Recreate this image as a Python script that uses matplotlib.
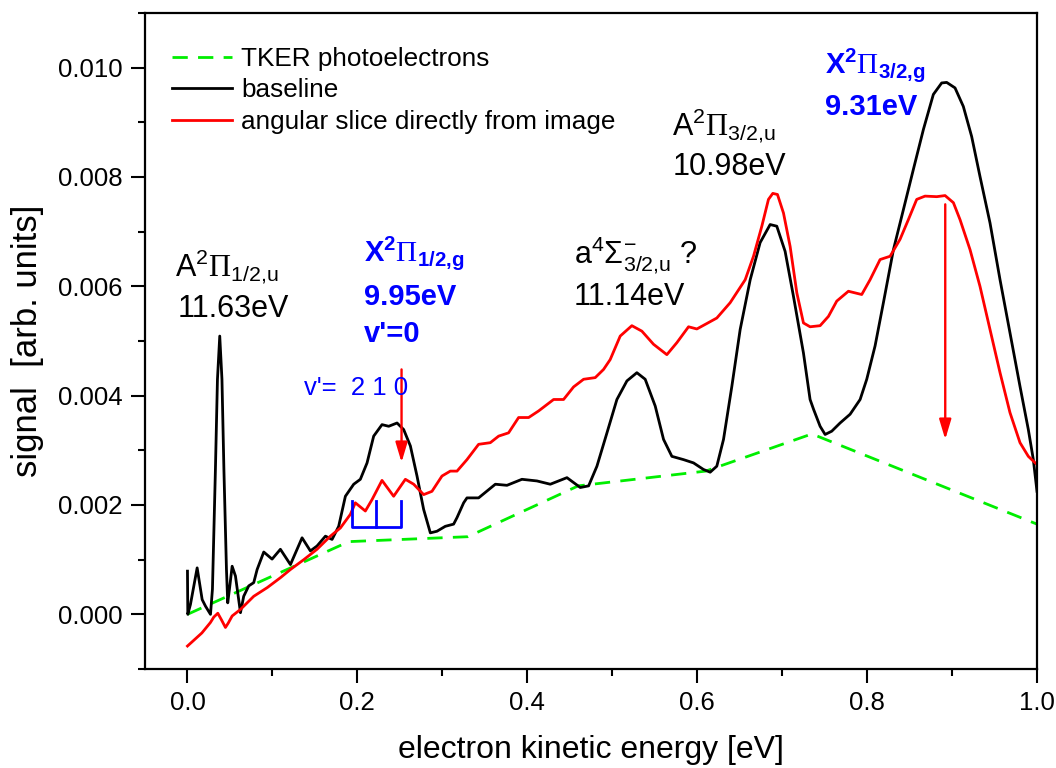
import matplotlib
matplotlib.use("Agg")
import matplotlib.pyplot as plt
from matplotlib.ticker import MultipleLocator

plt.rcParams['font.family'] = ['Liberation Sans', 'DejaVu Sans']
plt.rcParams['mathtext.fontset'] = 'custom'
plt.rcParams['mathtext.rm'] = 'Liberation Sans'
plt.rcParams['mathtext.it'] = 'Liberation Sans:italic'
plt.rcParams['mathtext.bf'] = 'Liberation Sans:bold'
plt.rcParams['mathtext.sf'] = 'Liberation Serif'

# TKER photoelectron background (piecewise linear)
tker_e = [0.0, 0.19, 0.33, 0.46, 0.61, 0.735, 1.0]
tker_s = [0.0, 0.00133, 0.00142, 0.00235, 0.00262, 0.0033, 0.00165]

# baseline spectrum
base_e = [0.0, 0.0004, 0.0035, 0.0114, 0.0173, 0.0212, 0.0271, 0.0294, 0.0329,
          0.0353, 0.038, 0.0406, 0.0429, 0.0459, 0.0474, 0.0494, 0.0526, 0.0565,
          0.0594, 0.0624, 0.0662, 0.0721, 0.078, 0.082, 0.0898, 0.0996, 0.1094,
          0.1212, 0.1349, 0.1447, 0.1525, 0.1624, 0.1702, 0.178, 0.1859,
          0.1957, 0.2035, 0.2114, 0.2192, 0.229, 0.2369, 0.2467, 0.2545,
          0.2624, 0.2702, 0.278, 0.2859, 0.2937, 0.3035, 0.3133, 0.3173, 0.3251,
          0.329, 0.3427, 0.3624, 0.3761, 0.3937, 0.4114, 0.4271, 0.4467, 0.4624,
          0.4722, 0.482, 0.4938, 0.5055, 0.5173, 0.529, 0.5388, 0.5506, 0.5604,
          0.5702, 0.5839, 0.5957, 0.6074, 0.6153, 0.6231, 0.631, 0.6408, 0.6506,
          0.6624, 0.6741, 0.6859, 0.6937, 0.7035, 0.7133, 0.7251, 0.7329, 0.737,
          0.7447, 0.7506, 0.7584, 0.7682, 0.78, 0.7918, 0.7996, 0.8094, 0.8192,
          0.831, 0.8427, 0.8545, 0.8663, 0.878, 0.8878, 0.8937, 0.9035, 0.9133,
          0.9231, 0.9329, 0.9447, 0.9565, 0.9682, 0.98, 0.9898, 0.9957, 1.0]
base_s = [0.00079, 0.0, 0.00018, 0.00085, 0.00027, 0.00015, 0.0, 0.00046, 0.00265,
          0.0043, 0.00509, 0.0043, 0.00265, 0.00082, 0.00021, 0.00046, 0.00088,
          0.0007, 0.00037, 0.00003, 0.00033, 0.00052, 0.00058, 0.00082, 0.00114,
          0.00101, 0.00119, 0.00091, 0.0014, 0.00116, 0.00125, 0.00143, 0.00137,
          0.00161, 0.00216, 0.00238, 0.00247, 0.00277, 0.00326, 0.00347,
          0.00344, 0.0035, 0.00338, 0.00308, 0.00253, 0.00192, 0.00149, 0.00152,
          0.00161, 0.00165, 0.00177, 0.00204, 0.00213, 0.00213, 0.00238,
          0.00236, 0.00247, 0.00244, 0.00238, 0.0025, 0.00232, 0.00235, 0.00271,
          0.00332, 0.00393, 0.00427, 0.00442, 0.0043, 0.00381, 0.0032, 0.00289,
          0.00283, 0.00277, 0.00265, 0.0026, 0.00271, 0.0032, 0.00417, 0.00521,
          0.00612, 0.0068, 0.00713, 0.0071, 0.00664, 0.00582, 0.00478, 0.00393,
          0.00375, 0.00344, 0.00329, 0.00335, 0.0035, 0.00366, 0.00393, 0.0043,
          0.00491, 0.0057, 0.00667, 0.0074, 0.00814, 0.00887, 0.00951, 0.00972,
          0.00973, 0.00963, 0.00929, 0.00874, 0.00801, 0.00716, 0.00612,
          0.00515, 0.00417, 0.00338, 0.00283, 0.00225]

# angular slice
slice_e = [0.0, 0.017, 0.027, 0.031, 0.0357, 0.04, 0.0447, 0.048, 0.0526, 0.0624,
           0.078, 0.094, 0.1094, 0.1212, 0.1369, 0.1525, 0.1682, 0.18, 0.1918,
           0.1976, 0.2094, 0.2173, 0.229, 0.2427, 0.2565, 0.2663, 0.278,
           0.2878, 0.2996, 0.3094, 0.3173, 0.329, 0.3427, 0.3565, 0.3663, 0.378,
           0.3898, 0.4016, 0.4133, 0.431, 0.4427, 0.4545, 0.4663, 0.48, 0.4898,
           0.4976, 0.5094, 0.5231, 0.5349, 0.5486, 0.5643, 0.5761, 0.5898,
           0.5996, 0.6114, 0.6231, 0.6388, 0.6565, 0.6663, 0.6761, 0.6839, 0.689,
           0.6945, 0.7016, 0.7094, 0.7173, 0.7251, 0.7329, 0.7447, 0.7545,
           0.7643, 0.778, 0.7937, 0.8035, 0.8153, 0.8271, 0.8388, 0.8486, 0.8584,
           0.8682, 0.882, 0.8918, 0.9016, 0.9094, 0.9212, 0.9329, 0.9447, 0.9565,
           0.9682, 0.98, 0.9898, 1.0]
slice_s = [-0.00058, -0.00034, -0.00015, -0.00005, 0.00002, -0.0001, -0.00024,
           -0.00016, -0.00003, 0.00009, 0.00033, 0.00049, 0.00067, 0.00082,
           0.001, 0.00119, 0.00143, 0.00158, 0.00183, 0.00204, 0.00189, 0.0021,
           0.00245, 0.00216, 0.00247, 0.00238, 0.00219, 0.00225, 0.00253,
           0.00262, 0.00262, 0.00283, 0.00311, 0.00314, 0.00326, 0.00332,
           0.0036, 0.0036, 0.00372, 0.00393, 0.00393, 0.00416, 0.0043, 0.00433,
           0.00448, 0.00466, 0.00509, 0.00528, 0.00518, 0.00494, 0.00475,
           0.00497, 0.00526, 0.00522, 0.00532, 0.00542, 0.0057, 0.00612, 0.00655,
           0.0071, 0.00759, 0.0077, 0.00768, 0.00734, 0.00673, 0.00588, 0.00533,
           0.00526, 0.00528, 0.00545, 0.00573, 0.00591, 0.00585, 0.00612,
           0.00649, 0.00655, 0.00686, 0.00722, 0.00759, 0.00765, 0.00764,
           0.00766, 0.00753, 0.00722, 0.00667, 0.006, 0.00521, 0.00442, 0.00369,
           0.00314, 0.00289, 0.00274]

# vibrational comb v' = 2, 1, 0 of the X 1/2,g state
comb_e = [0.1937, 0.2224, 0.2514]
comb_low, comb_high = 0.00159, 0.00207

# red arrows marking the X state origins
arrow_e = [0.252, 0.892]
arrow_top = [0.00448, 0.0075]
arrow_tip = [0.00278, 0.0032]

fig = plt.figure(figsize=(10.56, 7.68), dpi=100)
ax = fig.add_axes([0.1373, 0.1289, 0.8447, 0.8542])

lw = 2.0
ax.plot(tker_e, tker_s, color='#00ee00', lw=lw, dashes=(5.5, 3.7),
        label='TKER photoelectrons')
ax.plot(base_e, base_s, color='black', lw=lw, label='baseline')
ax.plot(slice_e, slice_s, color='red', lw=lw,
        label='angular slice directly from image')

# comb marks
comb_x = [comb_e[0], comb_e[0], comb_e[-1], comb_e[-1]]
comb_y = [comb_high, comb_low, comb_low, comb_high]
ax.plot(comb_x, comb_y, color='#0000ff', lw=lw)
ax.plot([comb_e[1], comb_e[1]], [comb_low, comb_high], color='#0000ff', lw=lw)

for xe, yt, yb in zip(arrow_e, arrow_top, arrow_tip):
    ax.annotate('', xy=(xe, yb), xytext=(xe, yt),
                arrowprops=dict(arrowstyle='-|>,head_length=0.6,head_width=0.18',
                                color='red', lw=1.7, mutation_scale=20,
                                shrinkA=0, shrinkB=0))

blue = '#0000ff'
big = 22
ax.text(-0.0141, 0.00618, r'A$^{\mathrm{2}}\mathsf{\Pi}_{\mathrm{1/2{,}u}}$', fontsize=big)
ax.text(-0.012, 0.00543, '11.63eV', fontsize=big)

ax.text(0.2074, 0.00646, r'$\mathbf{X}^{\mathbf{2}}\mathsf{\Pi}_{\mathbf{1/2{,}g}}$',
        fontsize=21, color=blue)
ax.text(0.2074, 0.00565, '9.95eV', fontsize=21, color=blue, fontweight='bold')
ax.text(0.2074, 0.00498, "v'=0", fontsize=21, color=blue, fontweight='bold')
ax.text(0.1376, 0.00402, "v'=  2 1 0", fontsize=18.5, color=blue)

ax.text(0.4545, 0.00643, r'a$^{\mathrm{4}}\Sigma^{-}_{\mathrm{3/2{,}u}}$ ?', fontsize=big)
ax.text(0.4545, 0.00565, '11.14eV', fontsize=big)

ax.text(0.5706, 0.00876, r'A$^{\mathrm{2}}\mathsf{\Pi}_{\mathrm{3/2{,}u}}$', fontsize=big)
ax.text(0.5706, 0.00803, '10.98eV', fontsize=big)

ax.text(0.7506, 0.0099, r'$\mathbf{X}^{\mathbf{2}}\mathsf{\Pi}_{\mathbf{3/2{,}g}}$',
        fontsize=21, color=blue)
ax.text(0.7506, 0.00914, '9.31eV', fontsize=21, color=blue, fontweight='bold')

ax.set_xlim(-0.05, 1.0)
ax.set_ylim(-0.001, 0.011)
ax.xaxis.set_major_locator(MultipleLocator(0.2))
ax.xaxis.set_minor_locator(MultipleLocator(0.1))
ax.yaxis.set_major_locator(MultipleLocator(0.002))
ax.yaxis.set_minor_locator(MultipleLocator(0.001))
ax.xaxis.set_major_formatter(plt.FormatStrFormatter('%.1f'))
ax.yaxis.set_major_formatter(plt.FormatStrFormatter('%.3f'))
ax.tick_params(which='major', direction='out', length=10, width=1.5,
               labelsize=18.5, pad=6)
ax.tick_params(which='minor', direction='out', length=5, width=1.5)
for sp in ax.spines.values():
    sp.set_linewidth(1.6)

ax.set_xlabel('electron kinetic energy [eV]', fontsize=23, labelpad=14)
ax.set_ylabel('signal  [arb. units]', fontsize=25, labelpad=10)

ax.legend(loc='upper left', bbox_to_anchor=(0.03, 0.948), frameon=False,
          fontsize=18.8, borderpad=0, borderaxespad=0, handlelength=2.3,
          handletextpad=0.35, labelspacing=0.28)

fig.savefig('out.png', dpi=100)
